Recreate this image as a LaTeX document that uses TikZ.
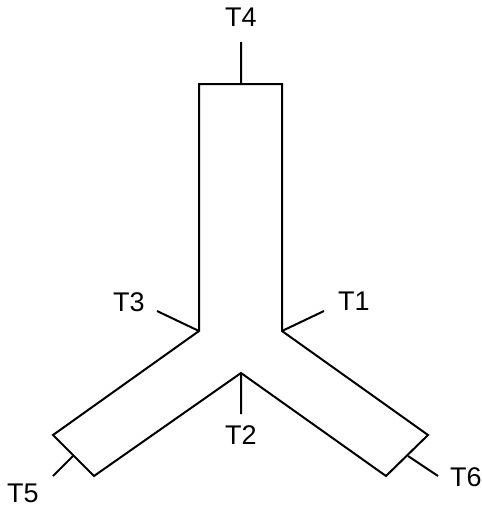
\documentclass[tikz,border=0pt]{standalone}
\usepackage{fontspec}
\setmainfont{Liberation Sans}
\usetikzlibrary{positioning}

\begin{document}
\begin{tikzpicture} [x=1pt, y=-1pt, line width=2pt, line join=miter,
                    liitin/.style={font=\fontsize{27}{30}\selectfont, inner sep=0pt}]

\useasboundingbox (0,0) rectangle (482,507);

\coordinate (a) at (199,84);
\coordinate (b) at (282,84);
\coordinate (c) at (282,331);
\coordinate (d) at (428,435);
\coordinate (e) at (386,476);
\coordinate (f) at (241,373);
\coordinate (g) at (94,476);
\coordinate (h) at (53,435);
\coordinate (i) at (199,331);

\coordinate (top) at (241,84);
\coordinate (leftend) at (73,456);
\coordinate (rightend) at (408,456);

\coordinate (s1) at (324,311);
\coordinate (s2) at (241,414);
\coordinate (s3) at (157,311);
\coordinate (s4) at (241,42);
\coordinate (s5) at (53,476);
\coordinate (s6) at (438,476);

\node[liitin] (T1) at (354,301) {T1};
\node[liitin] (T2) at (241,435) {T2};
\node[liitin] (T3) at (129,302) {T3};
\node[liitin] (T4) at (241,17) {T4};
\node[liitin] (T5) at (23,493) {T5};
\node[liitin] (T6) at (466,477) {T6};

\draw (a) -- (b) -- (c) -- (d) -- (e) -- (f) -- (g) -- (h) -- (i) -- cycle;

\path[draw]
    (c) -- (s1)
    (f) -- (s2)
    (i) -- (s3)
    (top) -- (s4)
    (leftend) -- (s5)
    (rightend) -- (s6);
\end{tikzpicture}
\end{document}
